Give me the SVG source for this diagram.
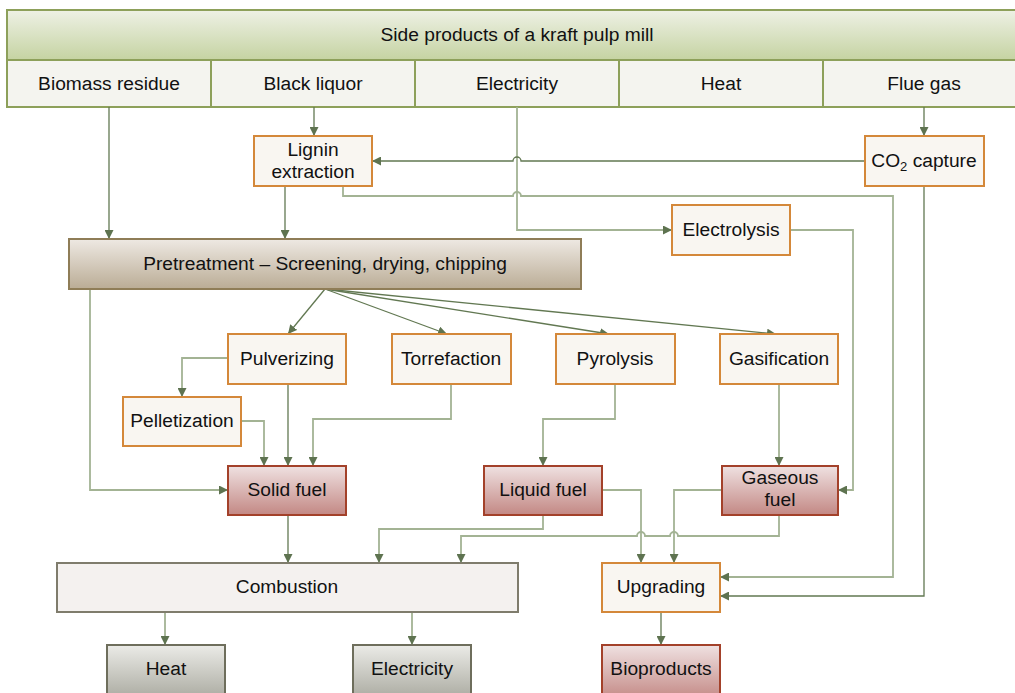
<svg xmlns="http://www.w3.org/2000/svg" width="1015" height="693" viewBox="0 0 1015 693">
<defs>
<linearGradient id="gHead" x1="0" y1="0" x2="0" y2="1"><stop offset="0" stop-color="#eef1e5"/><stop offset="1" stop-color="#c5d3a2"/></linearGradient>
<linearGradient id="gRed" x1="0" y1="0" x2="0" y2="1"><stop offset="0" stop-color="#efe1e1"/><stop offset="1" stop-color="#c38884"/></linearGradient>
<linearGradient id="gBrown" x1="0" y1="0" x2="0" y2="1"><stop offset="0" stop-color="#eee9e3"/><stop offset="1" stop-color="#baac95"/></linearGradient>
<linearGradient id="gGray" x1="0" y1="0" x2="0" y2="1"><stop offset="0" stop-color="#ebebe7"/><stop offset="1" stop-color="#a9a99f"/></linearGradient>
<marker id="arr" viewBox="0 0 10 10" refX="10" refY="5" markerWidth="9" markerHeight="9" markerUnits="userSpaceOnUse" orient="auto"><path d="M0,0 L10,5 L0,10 z" fill="#5e7350"/></marker>
</defs>
<style>
text{font-family:"Liberation Sans",Arial,sans-serif;font-size:19.2px;fill:#111;text-anchor:middle}
.cell{fill:#f4f4ef;stroke:#8da05a;stroke-width:2}
.head{fill:url(#gHead);stroke:#8da05a;stroke-width:2}
.org{fill:#f9f6f1;stroke:#d4883a;stroke-width:2}
.red{fill:url(#gRed);stroke:#a3412a;stroke-width:2}
.brn{fill:url(#gBrown);stroke:#8f7d57;stroke-width:2}
.cmb{fill:#f4f1ef;stroke:#7f7c6c;stroke-width:2}
.gry{fill:url(#gGray);stroke:#6e6e5c;stroke-width:2}
.d{fill:none;stroke:#627852;stroke-width:1.3;marker-end:url(#arr)}
.l{fill:none;stroke:#a3b394;stroke-width:1.8;marker-end:url(#arr)}
</style>
<g id="header">
<rect class="head" x="7" y="10" width="1015" height="50"/>
<text x="517" y="41">Side products of a kraft pulp mill</text>
</g>
<g id="biomass"><rect class="cell" x="7" y="60" width="204" height="47"/><text x="109" y="90">Biomass residue</text></g>
<g id="blackliquor"><rect class="cell" x="211" y="60" width="204" height="47"/><text x="313" y="90">Black liquor</text></g>
<g id="electricity-src"><rect class="cell" x="415" y="60" width="204" height="47"/><text x="517" y="90">Electricity</text></g>
<g id="heat-src"><rect class="cell" x="619" y="60" width="204" height="47"/><text x="721" y="90">Heat</text></g>
<g id="fluegas"><rect class="cell" x="823" y="60" width="200" height="47"/><text x="924" y="90">Flue gas</text></g>

<g id="connectors">
<path class="d" d="M109,107 V239"/>
<path class="d" d="M314,107 V136"/>
<path class="d" d="M924,107 V136"/>
<path class="l" d="M517,107 V230 H672"/>
<path class="d" d="M865,161 H521 A4,4 0 0 0 513,161 H372"/>
<path class="l" d="M343,186 V196 H513 A4,4 0 0 1 521,196 H893 V577 H720"/>
<path class="d" d="M285,186 V239"/>
<path class="l" d="M790,230 H853 V490 H838"/>
<path class="d" d="M924,186 V596 H720"/>
<path class="l" d="M90,289 V490 H228"/>
<path class="d" d="M325,289 L288,334"/>
<path class="d" d="M325,289 L447,334"/>
<path class="d" d="M325,289 L609,334"/>
<path class="d" d="M325,289 L776,334"/>
<path class="l" d="M228,358 H182 V397"/>
<path class="d" d="M288,384 V466"/>
<path class="l" d="M241,421 H264 V466"/>
<path class="l" d="M451,384 V419 H313 V466"/>
<path class="l" d="M615,384 V419 H543 V466"/>
<path class="l" d="M779,384 V466"/>
<path class="l" d="M602,490 H641 V563"/>
<path class="l" d="M722,490 H674 V563"/>
<path class="d" d="M288,515 V563"/>
<path class="l" d="M543,515 V529 H379 V563"/>
<path class="l" d="M779,515 V536 H678 A4,4 0 0 0 670,536 H645 A4,4 0 0 0 637,536 H461 V563"/>
<path class="d" d="M661,612 V645"/>
<path class="l" d="M165,612 V645"/>
<path class="l" d="M412,612 V645"/>
</g>

<g id="lignin"><rect class="org" x="254" y="136" width="118" height="50"/><text x="313" y="156">Lignin</text><text x="313" y="178">extraction</text></g>
<g id="co2"><rect class="org" x="865" y="136" width="119" height="50"/><text x="924" y="167">CO<tspan font-size="13" dy="4">2</tspan><tspan dy="-4"> capture</tspan></text></g>
<g id="electrolysis"><rect class="org" x="672" y="205" width="118" height="50"/><text x="731" y="236">Electrolysis</text></g>
<g id="pretreatment"><rect class="brn" x="69" y="239" width="512" height="50"/><text x="325" y="270">Pretreatment – Screening, drying, chipping</text></g>
<g id="pulverizing"><rect class="org" x="228" y="334" width="118" height="50"/><text x="287" y="365">Pulverizing</text></g>
<g id="torrefaction"><rect class="org" x="392" y="334" width="119" height="50"/><text x="451" y="365">Torrefaction</text></g>
<g id="pyrolysis"><rect class="org" x="556" y="334" width="119" height="50"/><text x="615" y="365">Pyrolysis</text></g>
<g id="gasification"><rect class="org" x="720" y="334" width="118" height="50"/><text x="779" y="365">Gasification</text></g>
<g id="pelletization"><rect class="org" x="123" y="397" width="118" height="49"/><text x="182" y="427">Pelletization</text></g>
<g id="solidfuel"><rect class="red" x="228" y="466" width="118" height="49"/><text x="287" y="496">Solid fuel</text></g>
<g id="liquidfuel"><rect class="red" x="484" y="466" width="118" height="49"/><text x="543" y="496">Liquid fuel</text></g>
<g id="gaseousfuel"><rect class="red" x="722" y="466" width="116" height="49"/><text x="780" y="484">Gaseous</text><text x="780" y="506">fuel</text></g>
<g id="combustion"><rect class="cmb" x="57" y="563" width="461" height="49"/><text x="287" y="593">Combustion</text></g>
<g id="upgrading"><rect class="org" x="602" y="563" width="118" height="49"/><text x="661" y="593">Upgrading</text></g>
<g id="heat-out"><rect class="gry" x="107" y="645" width="118" height="55"/><text x="166" y="675">Heat</text></g>
<g id="electricity-out"><rect class="gry" x="353" y="645" width="118" height="55"/><text x="412" y="675">Electricity</text></g>
<g id="bioproducts"><rect class="red" x="602" y="645" width="118" height="55"/><text x="661" y="675">Bioproducts</text></g>
</svg>
